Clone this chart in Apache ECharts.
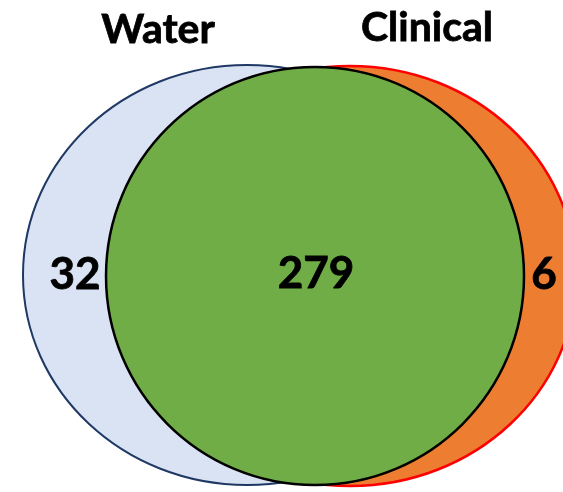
<!DOCTYPE html>
<html>
<head>
<meta charset="utf-8">
<script src="https://cdn.jsdelivr.net/npm/echarts@6/dist/echarts.min.js"></script>
<style>html,body{margin:0;padding:0;background:#fff}#c{width:563px;height:492px}</style>
</head>
<body>
<div id="c"></div>
<script>
// ---- data ----
const setNames = ['Water', 'Clinical'];
const regionNames = ['Water only', 'Both', 'Clinical only'];
const regionCounts = [32, 279, 6];

// ---- layout (in page pixel coordinates, mapped through hidden value axes) ----
const W = 563, H = 492;
const shapeLayout = [
  { cx: 247, cy: 275, rx: 224, ry: 210, fill: '#DAE3F3', stroke: '#1F3864', lw: 2 },
  { cx: 350, cy: 276, rx: 226, ry: 210, fill: '#ED7D31', stroke: '#FF0000', lw: 2.5 },
  { cx: 315, cy: 276, rx: 209, ry: 209, fill: '#70AD47', stroke: '#000000', lw: 2.5 }
];
const regionPos = [[75, 275], [316, 274], [544, 275]];
const titlePos = [[158, 30], [427, 28]];
const FONT = 'Lato, "Open Sans", sans-serif';

const chart = echarts.init(document.getElementById('c'), null, { renderer: 'canvas' });
chart.setOption({
  animation: false,
  grid: { left: 0, right: 0, top: 0, bottom: 0 },
  xAxis: { type: 'value', min: 0, max: W, show: false },
  yAxis: { type: 'value', min: 0, max: H, inverse: true, show: false },
  series: [
    {
      type: 'custom',
      coordinateSystem: 'cartesian2d',
      data: shapeLayout.map((s, i) => [s.cx, s.cy, i]),
      renderItem: function (params, api) {
        const s = shapeLayout[params.dataIndex];
        const c = api.coord([s.cx, s.cy]);
        const sz = api.size([s.rx, s.ry]);
        return {
          type: 'ellipse',
          shape: { cx: c[0], cy: c[1], rx: sz[0], ry: sz[1] },
          style: { fill: s.fill, stroke: s.stroke, lineWidth: s.lw }
        };
      },
      silent: true,
      z: 1
    },
    {
      type: 'scatter',
      symbolSize: 0,
      z: 5,
      itemStyle: { opacity: 1 },
      data: regionCounts.map((v, i) => ({ name: regionNames[i], value: regionPos[i] })),
      label: {
        show: true, position: 'inside',
        formatter: p => String(regionCounts[p.dataIndex]),
        fontFamily: FONT, fontWeight: 'bold', fontSize: 44, color: '#000',
        textBorderColor: '#000', textBorderWidth: 0.8
      }
    },
    {
      type: 'scatter',
      symbolSize: 0,
      z: 5,
      itemStyle: { opacity: 1 },
      data: setNames.map((n, i) => ({ name: n, value: titlePos[i] })),
      label: {
        show: true, position: 'inside',
        formatter: p => setNames[p.dataIndex],
        fontFamily: FONT, fontWeight: 'bold', fontSize: 41, color: '#000',
        textBorderColor: '#000', textBorderWidth: 0.8
      }
    }
  ]
});
</script>
</body>
</html>
